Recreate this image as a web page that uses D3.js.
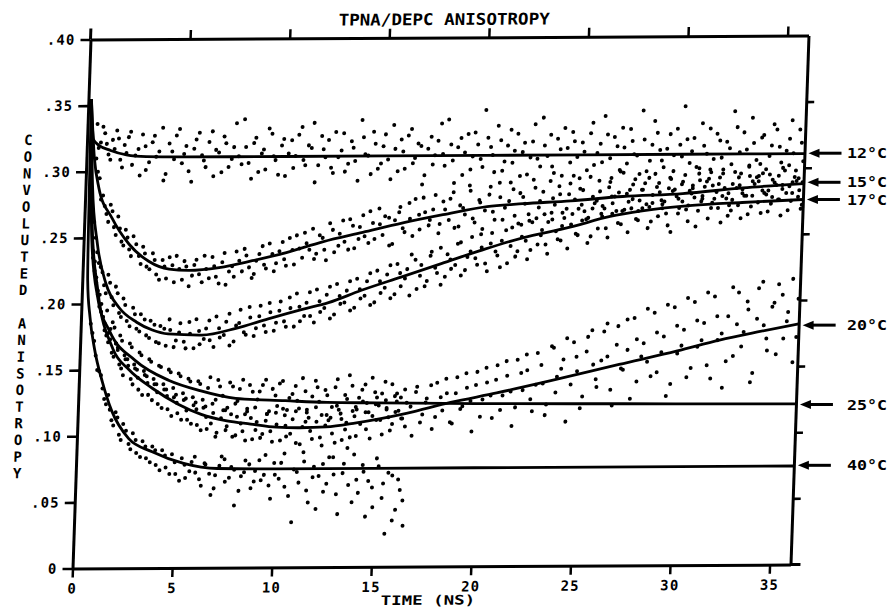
<!DOCTYPE html>
<html><head><meta charset="utf-8">
<script src="https://cdn.jsdelivr.net/npm/d3@7"></script>
<style>
body{margin:0;background:#fff}
svg{display:block}
text{font-family:"DejaVu Sans Mono",monospace;font-weight:bold;fill:#000}
</style>
</head><body>
<script>
// ---------- text ----------
const title = "TPNA/DEPC ANISOTROPY";
const xLabel = "TIME (NS)";
const yLabel = "CONVOLUTED ANISOTROPY";
const xTicks = [0,5,10,15,20,25,30,35];
const xTickLabels = ["0","5","10","15","20","25","30","35"];
const yTicks = [0,.05,.10,.15,.20,.25,.30,.35,.40];
const yTickLabels = ["0",".05",".10",".15",".20",".25",".30",".35",".40"];
const temps = ["12°C","15°C","17°C","20°C","25°C","40°C"];
const labelValues = [0.311,0.289,0.276,0.181,0.121,0.075];

// ---------- fitted curves [time ns, anisotropy] ----------
const fit12 = [[0.15,.355],[0.33,.324],[0.6,.32],[1.2,.316],[2,.3126],[3,.3112],[5,.3108],[10,.3107],[20,.3107],[30,.3107],[36.05,.3107]];
const fit15 = [[0.15,.355],[0.4,.31],[0.67,.288],[1.38,.265],[2.29,.245],[3.3,.232],[4.34,.226],[5.35,.225],[6.85,.227],[8.5,.232],[10.2,.238],[12,.246],[14,.253],[16,.26],[18,.266],[20.2,.272],[22,.274],[24.4,.276],[27,.279],[30,.281],[33,.285],[36.05,.288]];
const fit17 = [[0.15,.355],[0.35,.29],[0.7,.245],[1.2,.215],[1.9,.197],[2.8,.186],[3.6,.18],[4.4,.177],[6.1,.176],[7.8,.181],[9.4,.188],[11.1,.195],[12.4,.2],[14,.209],[16,.219],[18,.229],[20.2,.24],[22,.248],[24.4,.256],[26.4,.264],[28,.268],[30.5,.272],[33,.274],[36.05,.276]];
const fit20 = [[0.15,.355],[0.4,.26],[0.8,.21],[1.65,.166],[2.5,.15],[3.7,.136],[5,.124],[6.2,.116],[7.5,.111],[8.7,.1085],[10,.106],[11.2,.1055],[12.5,.106],[14,.109],[16.5,.116],[18.7,.124],[21,.131],[23.7,.14],[27.1,.152],[30,.162],[32.1,.17],[34,.176],[36.05,.182]];
const fit25 = [[0.15,.355],[0.4,.25],[0.8,.205],[1.47,.179],[2.8,.157],[4.5,.142],[6.1,.134],[7.9,.128],[10.4,.126],[12.5,.1245],[15,.124],[20,.123],[25,.1225],[30,.122],[36.05,.1215]];
const fit40 = [[0.15,.355],[0.27,.218],[0.45,.19],[0.73,.166],[1.18,.141],[1.7,.119],[2.6,.098],[3.8,.088],[5.4,.079],[7.1,.075],[10,.0745],[20,.0745],[36.05,.0745]];

// ---------- measured points [time ns, anisotropy] ----------
const dots12 = [[0.5,.336],[0.7,.322],[0.9,.329],[1.1,.313],[1.3,.324],[1.5,.331],[1.7,.309],[1.9,.32],[2.1,.326],[2.3,.305],[2.6,.317],[2.8,.328],[3.0,.301],[3.3,.322],[3.5,.311],[3.8,.333],[4.0,.298],[4.3,.315],[4.5,.327],[4.8,.306],[5.0,.319],[5.3,.292],[5.5,.324],[5.8,.312],[6.0,.303],[6.3,.33],[6.5,.316],[6.8,.299],[7.0,.321],[7.3,.309],[7.5,.336],[7.8,.305],[8.0,.318],[8.3,.294],[8.5,.325],[8.8,.313],[9.0,.301],[9.3,.328],[9.5,.308],[9.8,.319],[10.0,.296],[10.3,.323],[10.5,.311],[10.8,.333],[11.0,.304],[11.3,.317],[11.5,.291],[11.8,.326],[12.0,.31],[12.3,.302],[12.5,.329],[12.8,.315],[13.0,.299],[13.3,.322],[13.5,.307],[13.8,.338],[14.0,.312],[14.3,.297],[14.5,.32],[14.8,.305],[15.0,.327],[15.3,.293],[15.5,.316],[15.8,.323],[16.0,.301],[16.3,.331],[16.5,.309],[16.8,.318],[17.0,.296],[17.3,.325],[17.5,.311],[17.8,.335],[18.0,.303],[18.3,.319],[18.5,.29],[18.8,.324],[19.0,.313],[19.3,.3],[19.5,.328],[19.8,.308],[20.0,.345],[20.3,.317],[20.5,.298],[20.8,.322],[21.0,.306],[21.3,.33],[21.5,.314],[21.8,.295],[22.0,.32],[22.3,.309],[22.5,.334],[22.8,.302],[23.0,.318],[23.3,.326],[23.5,.297],[23.8,.315],[24.0,.331],[24.3,.305],[24.5,.321],[24.8,.293],[25.0,.313],[25.3,.327],[25.5,.303],[25.8,.319],[26.0,.34],[26.3,.308],[26.5,.324],[26.8,.299],[27.0,.316],[27.3,.33],[27.5,.311],[27.8,.296],[28.0,.322],[28.3,.306],[28.5,.336],[28.8,.314],[29.0,.301],[29.3,.326],[29.5,.31],[29.8,.318],[30.0,.347],[30.3,.304],[30.5,.323],[30.8,.296],[31.0,.317],[31.3,.33],[31.5,.307],[31.8,.321],[32.0,.299],[32.3,.315],[32.5,.343],[32.8,.312],[33.0,.327],[33.3,.302],[33.5,.319],[33.8,.294],[34.0,.325],[34.3,.309],[34.5,.333],[34.8,.316],[35.0,.3],[35.3,.322],[35.5,.311],[35.8,.329],[36.0,.305]];
const dots12b = [[0.6,.318],[0.8,.334],[1.0,.321],[1.2,.309],[1.4,.317],[1.6,.325],[1.8,.303],[2.0,.314],[2.2,.33],[2.45,.312],[2.7,.297],[2.95,.319],[3.15,.307],[3.4,.327],[3.65,.315],[3.9,.293],[4.15,.321],[4.4,.309],[4.65,.332],[4.9,.313],[5.15,.3],[5.4,.317],[5.65,.329],[5.9,.308],[6.15,.322],[6.4,.296],[6.65,.314],[6.9,.326],[7.15,.303],[7.4,.318],[7.65,.311],[7.9,.339],[8.15,.306],[8.4,.321],[8.65,.299],[8.9,.316],[9.15,.332],[9.4,.311],[9.65,.297],[9.9,.324],[10.15,.313],[10.4,.302],[10.65,.327],[10.9,.308],[11.15,.319],[11.4,.336],[11.65,.304],[11.9,.316],[12.15,.323],[12.4,.298],[12.65,.31],[12.9,.328],[13.15,.305],[13.4,.317],[13.65,.292],[13.9,.325],[14.15,.311],[14.4,.329],[14.65,.301],[14.9,.318],[15.15,.308],[15.4,.334],[15.65,.299],[15.9,.314],[16.15,.326],[16.4,.305],[16.65,.32],[16.9,.289],[17.15,.316],[17.4,.304],[17.65,.322],[17.9,.312],[18.15,.338],[18.4,.307],[18.65,.317],[18.9,.296],[19.15,.327],[19.4,.31],[19.65,.319],[19.9,.302],[20.15,.324],[20.4,.311],[20.65,.333],[20.9,.299],[21.15,.318],[21.4,.305],[21.65,.327],[21.9,.313],[22.15,.296],[22.4,.321],[22.65,.308],[22.9,.339],[23.15,.31],[23.4,.302],[23.65,.323],[23.9,.295],[24.15,.316],[24.4,.328],[24.65,.309],[24.9,.32],[25.15,.299],[25.4,.335],[25.65,.312],[25.9,.305],[26.15,.326],[26.4,.293],[26.65,.317],[26.9,.331],[27.15,.304],[27.4,.321],[27.65,.31],[27.9,.344],[28.15,.298],[28.4,.318],[28.65,.327],[28.9,.306],[29.15,.315],[29.4,.292],[29.65,.33],[29.9,.309],[30.15,.322],[30.4,.313],[30.65,.301],[30.9,.334],[31.15,.311],[31.4,.297],[31.65,.326],[31.9,.308],[32.15,.32],[32.4,.303],[32.65,.331],[32.9,.296],[33.15,.314],[33.4,.338],[33.65,.306],[33.9,.323],[34.15,.299],[34.4,.317],[34.65,.329],[34.9,.304],[35.15,.313],[35.4,.336],[35.65,.298],[35.9,.319]];
const dots15 = [[0.5,.31],[0.7,.295],[0.9,.282],[1.1,.268],[1.3,.275],[1.5,.258],[1.7,.266],[1.9,.247],[2.1,.256],[2.3,.241],[2.5,.251],[2.8,.236],[3.0,.243],[3.2,.228],[3.5,.238],[3.7,.222],[4.0,.233],[4.2,.219],[4.5,.229],[4.7,.236],[5.0,.218],[5.2,.228],[5.5,.221],[5.7,.233],[6.0,.216],[6.2,.226],[6.5,.235],[6.7,.22],[7.0,.231],[7.2,.214],[7.5,.228],[7.7,.239],[8.0,.224],[8.2,.236],[8.5,.219],[8.7,.232],[9.0,.243],[9.2,.226],[9.5,.237],[9.7,.23],[10.0,.246],[10.2,.228],[10.5,.24],[10.7,.251],[11.0,.234],[11.2,.245],[11.5,.256],[11.7,.237],[12.0,.249],[12.2,.232],[12.5,.255],[12.8,.243],[13.0,.262],[13.3,.24],[13.5,.258],[13.8,.248],[14.0,.266],[14.3,.245],[14.5,.26],[14.8,.271],[15.0,.251],[15.3,.264],[15.5,.244],[15.8,.268],[16.0,.256],[16.3,.275],[16.5,.25],[16.8,.266],[17.0,.279],[17.3,.258],[17.5,.27],[17.8,.252],[18.0,.276],[18.3,.262],[18.5,.283],[18.8,.257],[19.0,.271],[19.3,.288],[19.5,.263],[19.8,.277],[20.0,.255],[20.3,.281],[20.5,.268],[20.8,.29],[21.0,.262],[21.3,.276],[21.5,.285],[21.8,.259],[22.0,.279],[22.3,.266],[22.5,.292],[22.8,.271],[23.0,.283],[23.3,.26],[23.5,.278],[23.8,.287],[24.0,.267],[24.3,.281],[24.5,.295],[24.8,.27],[25.0,.284],[25.3,.263],[25.5,.279],[25.8,.291],[26.0,.272],[26.3,.286],[26.5,.266],[26.8,.282],[27.0,.297],[27.3,.275],[27.5,.288],[27.8,.268],[28.0,.284],[28.3,.293],[28.5,.274],[28.8,.289],[29.0,.27],[29.3,.285],[29.5,.298],[29.8,.277],[30.0,.29],[30.3,.272],[30.5,.287],[30.8,.3],[31.0,.279],[31.3,.292],[31.5,.274],[31.8,.288],[32.0,.296],[32.3,.281],[32.5,.276],[32.8,.293],[33.0,.284],[33.3,.301],[33.5,.279],[33.8,.29],[34.0,.296],[34.3,.283],[34.5,.278],[34.8,.294],[35.0,.287],[35.3,.302],[35.5,.281],[35.8,.292],[36.0,.289]];
const dots15b = [[0.6,.3],[0.8,.279],[1.0,.274],[1.2,.262],[1.4,.27],[1.6,.252],[1.8,.257],[2.0,.244],[2.2,.25],[2.4,.236],[2.65,.245],[2.9,.23],[3.1,.238],[3.35,.226],[3.6,.233],[3.85,.218],[4.1,.228],[4.35,.235],[4.6,.216],[4.85,.226],[5.1,.232],[5.35,.213],[5.6,.229],[5.85,.222],[6.1,.236],[6.35,.219],[6.6,.228],[6.85,.215],[7.1,.238],[7.35,.224],[7.6,.22],[7.85,.232],[8.1,.241],[8.35,.227],[8.6,.222],[8.85,.237],[9.1,.229],[9.35,.245],[9.6,.224],[9.85,.239],[10.1,.233],[10.35,.249],[10.6,.229],[10.85,.241],[11.1,.253],[11.35,.24],[11.6,.233],[11.85,.251],[12.1,.24],[12.35,.26],[12.6,.238],[12.85,.252],[13.1,.246],[13.35,.263],[13.6,.241],[13.85,.257],[14.1,.25],[14.35,.269],[14.6,.248],[14.85,.259],[15.1,.265],[15.35,.243],[15.6,.262],[15.85,.272],[16.1,.253],[16.35,.263],[16.6,.278],[16.85,.255],[17.1,.268],[17.35,.262],[17.6,.281],[17.85,.259],[18.1,.27],[18.35,.278],[18.6,.256],[18.85,.273],[19.1,.266],[19.35,.284],[19.6,.26],[19.85,.275],[20.1,.269],[20.35,.287],[20.6,.262],[20.85,.279],[21.1,.271],[21.35,.29],[21.6,.265],[21.85,.282],[22.1,.274],[22.35,.261],[22.6,.286],[22.85,.276],[23.1,.266],[23.35,.291],[23.6,.273],[23.85,.281],[24.1,.263],[24.35,.289],[24.6,.277],[24.85,.285],[25.1,.268],[25.35,.294],[25.6,.274],[25.85,.283],[26.1,.27],[26.35,.29],[26.6,.279],[26.85,.298],[27.1,.269],[27.35,.284],[27.6,.292],[27.85,.276],[28.1,.289],[28.35,.271],[28.6,.296],[28.85,.282],[29.1,.275],[29.35,.293],[29.6,.284],[29.85,.27],[30.1,.295],[30.35,.283],[30.6,.278],[30.85,.291],[31.1,.286],[31.35,.299],[31.6,.277],[31.85,.293],[32.1,.285],[32.35,.272],[32.6,.297],[32.85,.287],[33.1,.279],[33.35,.294],[33.6,.288],[33.85,.303],[34.1,.281],[34.35,.295],[34.6,.289],[34.85,.276],[35.1,.298],[35.35,.286],[35.6,.293],[35.85,.283]];
const dots17 = [[0.5,.262],[0.7,.239],[0.9,.228],[1.1,.214],[1.3,.222],[1.5,.205],[1.7,.213],[1.9,.193],[2.1,.204],[2.3,.187],[2.6,.197],[2.8,.181],[3.0,.192],[3.3,.176],[3.5,.187],[3.8,.171],[4.0,.183],[4.3,.168],[4.5,.18],[4.8,.172],[5.0,.185],[5.3,.166],[5.5,.177],[5.8,.188],[6.0,.169],[6.3,.181],[6.5,.172],[6.8,.19],[7.0,.174],[7.3,.186],[7.5,.168],[7.8,.183],[8.0,.195],[8.3,.176],[8.5,.189],[8.8,.181],[9.0,.198],[9.3,.178],[9.5,.193],[9.8,.185],[10.0,.201],[10.3,.182],[10.5,.196],[10.8,.207],[11.0,.186],[11.3,.2],[11.5,.19],[11.8,.21],[12.0,.193],[12.3,.206],[12.5,.188],[12.8,.214],[13.0,.199],[13.3,.209],[13.5,.194],[13.8,.218],[14.0,.203],[14.3,.216],[14.5,.198],[14.8,.224],[15.0,.207],[15.3,.221],[15.5,.203],[15.8,.229],[16.0,.212],[16.3,.225],[16.5,.236],[16.8,.21],[17.0,.228],[17.3,.216],[17.5,.238],[17.8,.222],[18.0,.213],[18.3,.236],[18.5,.225],[18.8,.244],[19.0,.22],[19.3,.234],[19.5,.249],[19.8,.228],[20.0,.241],[20.3,.223],[20.5,.252],[20.8,.235],[21.0,.246],[21.3,.229],[21.5,.256],[21.8,.238],[22.0,.249],[22.3,.232],[22.5,.26],[22.8,.243],[23.0,.254],[23.3,.236],[23.5,.262],[23.8,.247],[24.0,.257],[24.3,.24],[24.5,.266],[24.8,.25],[25.0,.261],[25.3,.244],[25.5,.27],[25.8,.255],[26.0,.264],[26.3,.248],[26.5,.274],[26.8,.259],[27.0,.268],[27.3,.252],[27.5,.277],[27.8,.261],[28.0,.27],[28.3,.255],[28.5,.28],[28.8,.264],[29.0,.273],[29.3,.257],[29.5,.283],[29.8,.266],[30.0,.275],[30.3,.26],[30.5,.285],[30.8,.268],[31.0,.277],[31.3,.262],[31.5,.287],[31.8,.27],[32.0,.279],[32.3,.264],[32.5,.288],[32.8,.272],[33.0,.281],[33.3,.265],[33.5,.29],[33.8,.274],[34.0,.283],[34.3,.267],[34.5,.291],[34.8,.276],[35.0,.284],[35.3,.268],[35.5,.289],[35.8,.278],[36.0,.272]];
const dots17b = [[0.6,.25],[0.8,.231],[1.0,.224],[1.2,.208],[1.4,.216],[1.6,.199],[1.8,.208],[2.0,.19],[2.2,.199],[2.45,.183],[2.7,.192],[2.95,.179],[3.2,.188],[3.45,.174],[3.7,.184],[3.95,.17],[4.2,.181],[4.45,.188],[4.7,.167],[4.95,.178],[5.2,.171],[5.45,.186],[5.7,.166],[5.95,.179],[6.2,.173],[6.45,.187],[6.7,.167],[6.95,.181],[7.2,.176],[7.45,.192],[7.7,.171],[7.95,.185],[8.2,.178],[8.45,.197],[8.7,.175],[8.95,.19],[9.2,.183],[9.45,.2],[9.7,.179],[9.95,.194],[10.2,.186],[10.45,.204],[10.7,.182],[10.95,.197],[11.2,.19],[11.45,.208],[11.7,.185],[11.95,.201],[12.2,.196],[12.45,.212],[12.7,.191],[12.95,.205],[13.2,.2],[13.45,.216],[13.7,.196],[13.95,.21],[14.2,.205],[14.45,.222],[14.7,.2],[14.95,.216],[15.2,.211],[15.45,.228],[15.7,.206],[15.95,.222],[16.2,.218],[16.45,.205],[16.7,.232],[16.95,.22],[17.2,.212],[17.45,.235],[17.7,.226],[17.95,.241],[18.2,.219],[18.45,.232],[18.7,.228],[18.95,.245],[19.2,.224],[19.45,.238],[19.7,.233],[19.95,.251],[20.2,.229],[20.45,.244],[20.7,.238],[20.95,.226],[21.2,.254],[21.45,.242],[21.7,.234],[21.95,.258],[22.2,.246],[22.45,.239],[22.7,.263],[22.95,.25],[23.2,.243],[23.45,.267],[23.7,.253],[23.95,.246],[24.2,.27],[24.45,.258],[24.7,.251],[24.95,.273],[25.2,.262],[25.45,.249],[25.7,.276],[25.95,.266],[26.2,.255],[26.45,.279],[26.7,.268],[26.95,.258],[27.2,.281],[27.45,.27],[27.7,.262],[27.95,.284],[28.2,.273],[28.45,.26],[28.7,.286],[28.95,.276],[29.2,.266],[29.45,.252],[29.7,.279],[29.95,.288],[30.2,.269],[30.45,.281],[30.7,.256],[30.95,.275],[31.2,.29],[31.45,.27],[31.7,.282],[31.95,.259],[32.2,.277],[32.45,.268],[32.7,.285],[32.95,.262],[33.2,.279],[33.45,.271],[33.7,.293],[33.95,.266],[34.2,.28],[34.45,.273],[34.7,.287],[34.95,.264],[35.2,.281],[35.45,.275],[35.7,.29],[35.95,.269]];
const dots20 = [[0.5,.24],[0.7,.22],[0.9,.198],[1.1,.19],[1.3,.176],[1.5,.181],[1.7,.16],[1.9,.167],[2.1,.151],[2.3,.158],[2.6,.143],[2.8,.151],[3.0,.135],[3.3,.146],[3.5,.131],[3.8,.139],[4.0,.124],[4.3,.135],[4.5,.12],[4.8,.129],[5.0,.117],[5.3,.127],[5.5,.112],[5.8,.123],[6.0,.108],[6.3,.121],[6.5,.105],[6.8,.117],[7.0,.102],[7.3,.119],[7.5,.107],[7.8,.099],[8.0,.114],[8.3,.103],[8.5,.118],[8.8,.097],[9.0,.11],[9.3,.101],[9.5,.116],[9.8,.095],[10.0,.108],[10.3,.12],[10.5,.099],[10.8,.112],[11.0,.094],[11.3,.106],[11.5,.119],[11.8,.097],[12.0,.11],[12.3,.092],[12.5,.115],[12.8,.101],[13.0,.122],[13.3,.096],[13.5,.109],[13.8,.118],[14.0,.099],[14.3,.125],[14.5,.104],[14.8,.114],[15.0,.128],[15.3,.1],[15.5,.119],[15.8,.108],[16.0,.131],[16.3,.112],[16.5,.124],[16.8,.099],[17.0,.136],[17.3,.115],[17.5,.127],[17.8,.104],[18.0,.139],[18.3,.118],[18.5,.131],[18.8,.108],[19.0,.143],[19.3,.121],[19.5,.135],[19.8,.102],[20.0,.147],[20.3,.126],[20.5,.139],[20.8,.112],[21.0,.152],[21.3,.129],[21.5,.144],[21.8,.106],[22.0,.156],[22.3,.133],[22.5,.148],[22.8,.117],[23.0,.161],[23.3,.138],[23.5,.122],[23.8,.165],[24.0,.143],[24.3,.156],[24.5,.109],[24.8,.169],[25.0,.147],[25.3,.128],[25.5,.173],[25.8,.152],[26.0,.135],[26.3,.177],[26.5,.158],[26.8,.121],[27.0,.181],[27.3,.148],[27.5,.163],[27.8,.187],[28.0,.139],[28.3,.168],[28.5,.154],[28.8,.191],[29.0,.146],[29.3,.173],[29.5,.128],[29.8,.195],[30.0,.16],[30.3,.178],[30.5,.142],[30.8,.199],[31.0,.165],[31.3,.183],[31.5,.151],[31.8,.203],[32.0,.17],[32.3,.134],[32.5,.188],[32.8,.158],[33.0,.206],[33.3,.176],[33.5,.193],[33.8,.145],[34.0,.209],[34.3,.181],[34.5,.162],[34.8,.198],[35.0,.212],[35.3,.171],[35.5,.191],[35.8,.153],[36.0,.201]];
const dots20b = [[0.6,.232],[0.8,.207],[1.0,.194],[1.2,.18],[1.4,.171],[1.6,.163],[1.8,.17],[2.0,.154],[2.2,.146],[2.45,.153],[2.7,.139],[2.95,.144],[3.2,.131],[3.45,.14],[3.7,.127],[3.95,.133],[4.2,.121],[4.45,.13],[4.7,.115],[4.95,.125],[5.2,.112],[5.45,.119],[5.7,.109],[5.95,.12],[6.2,.104],[6.45,.114],[6.7,.109],[6.95,.099],[7.2,.113],[7.45,.104],[7.7,.116],[7.95,.1],[8.2,.109],[8.45,.096],[8.7,.113],[8.95,.104],[9.2,.098],[9.45,.111],[9.7,.103],[9.95,.117],[10.2,.096],[10.45,.107],[10.7,.101],[10.95,.118],[11.2,.093],[11.45,.11],[11.7,.103],[11.95,.121],[12.2,.098],[12.45,.107],[12.7,.113],[12.95,.094],[13.2,.116],[13.45,.104],[13.7,.098],[13.95,.121],[14.2,.108],[14.45,.117],[14.7,.097],[14.95,.123],[15.2,.111],[15.45,.126],[15.7,.103],[15.95,.117],[16.2,.128],[16.45,.106],[16.7,.121],[16.95,.132],[17.2,.109],[17.45,.124],[17.7,.137],[17.95,.113],[18.2,.128],[18.45,.142],[18.7,.109],[18.95,.131],[19.2,.119],[19.45,.146],[19.7,.125],[19.95,.137],[20.2,.113],[20.45,.15],[20.7,.129],[20.95,.141],[21.2,.118],[21.45,.155],[21.7,.132],[21.95,.12],[22.2,.146],[22.45,.16],[22.7,.126],[22.95,.137],[23.2,.152],[23.45,.114],[23.7,.166],[23.95,.131],[24.2,.149],[24.45,.172],[24.7,.137],[24.95,.158],[25.2,.119],[25.45,.162],[25.7,.178],[25.95,.141],[26.2,.155],[26.45,.183],[26.7,.133],[26.95,.167],[27.2,.149],[27.45,.186],[27.7,.126],[27.95,.171],[28.2,.158],[28.45,.194],[28.7,.143],[28.95,.176],[29.2,.161],[29.45,.197],[29.7,.137],[29.95,.181],[30.2,.166],[30.45,.202],[30.7,.149],[30.95,.185],[31.2,.17],[31.45,.206],[31.7,.141],[31.95,.188],[32.2,.175],[32.45,.154],[32.7,.21],[32.95,.182],[33.2,.165],[33.45,.199],[33.7,.138],[33.95,.186],[34.2,.214],[34.45,.171],[34.7,.195],[34.95,.159],[35.2,.204],[35.45,.184],[35.7,.216],[35.95,.172]];
const dots25 = [[0.5,.235],[0.7,.216],[0.9,.207],[1.1,.19],[1.3,.195],[1.5,.173],[1.7,.182],[1.9,.165],[2.1,.172],[2.4,.158],[2.6,.167],[2.9,.15],[3.1,.161],[3.4,.145],[3.6,.156],[3.9,.139],[4.1,.152],[4.4,.135],[4.6,.148],[4.9,.131],[5.1,.145],[5.4,.128],[5.6,.141],[5.9,.125],[6.1,.139],[6.4,.122],[6.6,.144],[6.9,.127],[7.1,.137],[7.4,.119],[7.6,.14],[7.9,.124],[8.1,.135],[8.4,.116],[8.6,.138],[8.9,.121],[9.1,.133],[9.4,.142],[9.6,.118],[9.9,.13],[10.1,.139],[10.4,.115],[10.6,.128],[10.9,.137],[11.1,.12],[11.4,.133],[11.6,.113],[11.9,.141],[12.1,.125],[12.4,.134],[12.6,.111],[12.9,.136],[13.1,.119],[13.4,.13],[13.6,.145],[13.9,.114],[14.1,.128],[14.4,.138],[14.6,.117],[14.9,.132],[15.1,.122],[15.4,.14],[15.6,.113],[15.9,.129],[16.1,.118],[16.4,.134]];
const dots25b = [[0.6,.225],[0.8,.21],[1.0,.2],[1.2,.185],[1.4,.178],[1.6,.186],[1.8,.17],[2.0,.176],[2.25,.161],[2.5,.17],[2.75,.154],[3.0,.163],[3.25,.149],[3.5,.158],[3.75,.143],[4.0,.153],[4.25,.139],[4.5,.15],[4.75,.136],[5.0,.147],[5.25,.132],[5.5,.143],[5.75,.129],[6.0,.141],[6.25,.127],[6.5,.136],[6.75,.124],[7.0,.142],[7.25,.13],[7.5,.121],[7.75,.137],[8.0,.126],[8.25,.142],[8.5,.12],[8.75,.133],[9.0,.127],[9.25,.138],[9.5,.116],[9.75,.135],[10.0,.122],[10.25,.141],[10.5,.119],[10.75,.131],[11.0,.126],[11.25,.143],[11.5,.117],[11.75,.129],[12.0,.136],[12.25,.115],[12.5,.13],[12.75,.121],[13.0,.142],[13.25,.112],[13.5,.127],[13.75,.137],[14.0,.119],[14.25,.134],[14.5,.124],[14.75,.143],[15.0,.111],[15.25,.131],[15.5,.12],[15.75,.138],[16.0,.125],[16.25,.112]];
const dots40 = [[0.5,.185],[0.7,.172],[0.9,.15],[1.1,.146],[1.3,.128],[1.5,.131],[1.7,.112],[1.9,.118],[2.1,.101],[2.3,.109],[2.6,.094],[2.8,.102],[3.0,.087],[3.3,.096],[3.5,.083],[3.8,.092],[4.0,.078],[4.3,.089],[4.5,.076],[4.8,.086],[5.0,.071],[5.3,.083],[5.5,.068],[5.8,.08],[6.0,.072],[6.3,.062],[6.5,.078],[6.8,.055],[7.0,.07],[7.3,.084],[7.5,.065],[7.8,.076],[8.0,.047],[8.3,.069],[8.5,.081],[8.8,.06],[9.0,.073],[9.3,.066],[9.5,.085],[9.8,.052],[10.0,.07],[10.3,.079],[10.5,.061],[10.9,.034],[11.1,.072],[11.4,.087],[11.6,.058],[11.9,.068],[12.1,.044],[12.4,.078],[12.6,.063],[12.9,.083],[13.1,.055],[13.4,.071],[13.6,.09],[13.9,.049],[14.1,.066],[14.4,.077],[14.6,.038],[14.9,.06],[15.1,.082],[15.4,.052],[15.6,.025],[15.9,.069],[16.1,.043],[16.3,.058],[16.5,.031]];
const dots40b = [[0.6,.178],[0.8,.161],[1.0,.149],[1.2,.136],[1.4,.124],[1.6,.12],[1.8,.108],[2.0,.114],[2.2,.097],[2.45,.104],[2.7,.09],[2.95,.097],[3.2,.084],[3.45,.092],[3.7,.08],[3.95,.089],[4.2,.074],[4.45,.085],[4.7,.071],[4.95,.08],[5.2,.066],[5.45,.078],[5.7,.073],[5.95,.084],[6.2,.067],[6.45,.079],[6.7,.071],[6.95,.06],[7.2,.077],[7.45,.082],[7.7,.068],[7.95,.074],[8.2,.058],[8.45,.072],[8.7,.078],[8.95,.065],[9.2,.081],[9.45,.07],[9.7,.062],[9.95,.079],[10.2,.067],[10.45,.086],[10.7,.054],[10.95,.074],[11.2,.064],[11.45,.08],[11.7,.049],[11.95,.076],[12.2,.069],[12.45,.057],[12.7,.083],[12.95,.07],[13.2,.04],[13.45,.078],[13.7,.062],[13.95,.085],[14.2,.056],[14.45,.072],[14.7,.065],[14.95,.045],[15.2,.076],[15.45,.063],[15.7,.071],[15.95,.035],[16.2,.066],[16.45,.05]];

const fits = [fit12, fit15, fit17, fit20, fit25, fit40];
const dotSets = [dots12, dots12b, dots15, dots15b, dots17, dots17b, dots20, dots20b, dots25, dots25b, dots40, dots40b];

// ---------- layout ----------
const W = 721, H = 526;
// the scanned original is slightly sheared: affine frame for the plot
const M = {a: 718/721, b: -4/721, c: -18/526, d: 529/526, e: 90.5, f: 39.5};
const toPage = (u, v) => [M.a*u + M.c*v + M.e, M.b*u + M.d*v + M.f];

const svg = d3.select("body").append("svg").attr("width", 892).attr("height", 611);
svg.append("rect").attr("width", 892).attr("height", 611).attr("fill", "#fff");
const g = svg.append("g").attr("transform", `matrix(${M.a},${M.b},${M.c},${M.d},${M.e},${M.f})`);

const x = d3.scaleLinear().domain([0, 36.05]).range([0, W]);
const y = d3.scaleLinear().domain([0, 0.40]).range([H, 0]);

function styleAxis(sel, fs) {
  sel.attr("font-family", "DejaVu Sans Mono, monospace").attr("font-size", fs).attr("font-weight", "bold");
  sel.select(".domain").attr("stroke", "#000").attr("stroke-width", 3);
  sel.selectAll(".tick line").attr("stroke", "#000").attr("stroke-width", 2.5);
  sel.selectAll(".tick text").attr("fill", "#000").attr("letter-spacing", "1.2px");
}

// bottom
g.append("g").attr("transform", `translate(0,${H})`)
  .call(d3.axisBottom(x).tickValues(xTicks).tickFormat((d, i) => xTickLabels[i]).tickSize(9).tickPadding(6).tickSizeOuter(0))
  .call(s => styleAxis(s, 14));
// top
g.append("g")
  .call(d3.axisTop(x).tickValues(xTicks.slice(1)).tickFormat("").tickSize(9).tickSizeOuter(0))
  .call(s => styleAxis(s, 14));
// left
g.append("g")
  .call(d3.axisLeft(y).tickValues(yTicks).tickFormat((d, i) => yTickLabels[i]).tickSize(10).tickPadding(5).tickSizeOuter(0))
  .call(s => styleAxis(s, 14));
// right
g.append("g").attr("transform", `translate(${W},0)`)
  .call(d3.axisRight(y).tickValues(yTicks.slice(1, -1)).tickFormat("").tickSize(8).tickSizeOuter(0))
  .call(s => styleAxis(s, 14));
// small overshoots of the frame lines
g.append("line").attr("x1", 0).attr("x2", 0).attr("y1", -11).attr("y2", 0).attr("stroke", "#000").attr("stroke-width", 3);
g.append("line").attr("x1", W).attr("x2", W + 10).attr("y1", H).attr("y2", H).attr("stroke", "#000").attr("stroke-width", 3);

// data points
const dotG = g.append("g");
dotSets.forEach(set => {
  dotG.selectAll(null).data(set).enter().append("circle")
    .attr("cx", d => x(d[0])).attr("cy", d => y(d[1])).attr("r", 2.0).attr("fill", "#000");
});

// fitted curves
const line = d3.line().x(d => x(d[0])).y(d => y(d[1])).curve(d3.curveMonotoneX);
g.append("g").selectAll("path").data(fits).enter().append("path")
  .attr("d", line).attr("fill", "none").attr("stroke", "#000").attr("stroke-width", 2.8).attr("stroke-linejoin", "round");

// title and axis labels
g.append("text").attr("x", 354.5).attr("y", -12.5).attr("text-anchor", "middle")
  .attr("font-size", 16).attr("textLength", 212).attr("lengthAdjust", "spacingAndGlyphs").text(title);
g.append("text").attr("x", 358).attr("y", 564).attr("text-anchor", "middle")
  .attr("font-size", 13).attr("textLength", 95).attr("lengthAdjust", "spacingAndGlyphs").text(xLabel);
g.append("g").selectAll("text").data(yLabel.split("")).enter().append("text")
  .attr("x", -59).attr("y", (d, i) => 99.6 + i * 16.57).attr("dy", "0.36em")
  .attr("text-anchor", "middle").attr("font-size", 14).text(d => d);

// temperature annotations with arrows
temps.forEach((t, i) => {
  const [ax, ay] = toPage(W, y(labelValues[i]));
  const tip = ax + 4, tail = ax + 37;
  svg.append("path").attr("d", `M${tip},${ay}L${tip + 11},${ay - 4.5}L${tip + 11},${ay + 4.5}Z`).attr("fill", "#000");
  svg.append("line").attr("x1", tip + 8).attr("x2", tail).attr("y1", ay).attr("y2", ay).attr("stroke", "#000").attr("stroke-width", 3);
  svg.append("text").attr("x", 847).attr("y", ay).attr("dy", "0.36em").attr("font-size", 14)
    .attr("textLength", 40).attr("lengthAdjust", "spacingAndGlyphs").text(t);
});
</script>
</body></html>
